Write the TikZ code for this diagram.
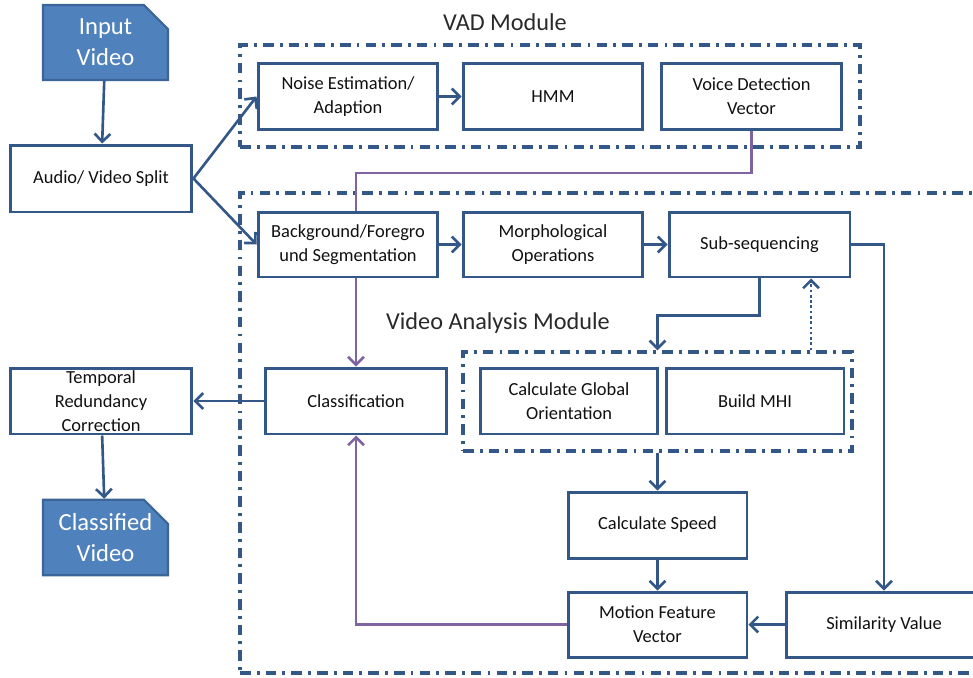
\documentclass[tikz,border=0pt]{standalone}
\usepackage{fontspec}
\setmainfont{Carlito}
\usetikzlibrary{arrows.meta,shapes.misc}
\definecolor{bb}{HTML}{335887}
\definecolor{df}{HTML}{4F81BD}
\definecolor{dfb}{HTML}{3A6596}
\definecolor{pp}{HTML}{8064A2}
\definecolor{tx}{HTML}{111111}
\begin{document}
\begin{tikzpicture}[x=0.02cm,y=-0.02cm,
  box/.style={draw=bb, line width=1.7pt, fill=white, align=center, inner sep=1pt,
    minimum width=3.6cm, minimum height=1.32cm, text=tx,
    font=\fontsize{10.5}{13.5}\selectfont},
  doc/.style={chamfered rectangle, chamfered rectangle corners=north east,
    chamfered rectangle sep=0.24cm, draw=dfb, line width=1.2pt, fill=df, text=white,
    align=center, minimum width=2.5cm, minimum height=1.5cm, inner sep=1pt,
    font=\fontsize{14}{17.5}\selectfont},
  mod/.style={rectangle, draw=bb, line width=2pt,
    dash pattern=on 6pt off 3.5pt on 1.6pt off 3.5pt},
  lbl/.style={text=tx!90, font=\fontsize{13.8}{16}\selectfont},
  arr/.style={draw=bb, line width=1.5pt, -{Straight Barb[length=4.5pt,width=9pt]}},
  parr/.style={draw=pp, line width=1.5pt, -{Straight Barb[length=4.5pt,width=9pt]}},
  pline/.style={draw=pp, line width=1.5pt}]
\useasboundingbox (0,0) rectangle (973,677);
\begin{scope}
\clip (0,0) rectangle (973,677);
% module frames
\node[mod, minimum width=12.4cm, minimum height=2.04cm] (vad) at (550,96) {};
\node[mod, minimum width=15cm, minimum height=9.6cm] (vam) at (615,433) {};
\node[mod, minimum width=7.78cm, minimum height=1.98cm] (inner) at (657.5,401.5) {};
\node[lbl] (vadlbl) at (505,22) {VAD Module};
\node[lbl] (vamlbl) at (498,323) {Video Analysis Module};
% documents
\node[doc] (inv) at (105.5,42.5) {Input\\Video};
\node[doc] (outv) at (105.5,537.5) {Classified\\Video};
% boxes
\node[box, minimum width=3.64cm, minimum height=1.34cm] (split) at (101,178.5) {Audio/ Video Split};
\node[box] (noise) at (348,96.5) {Noise Estimation/\\Adaption};
\node[box] (hmm) at (553,96.5) {HMM};
\node[box] (vdv) at (751.5,96.5) {Voice Detection\\Vector};
\node[box, minimum height=1.3cm] (bg) at (348,244.5) {Background/Foregro\\und Segmentation};
\node[box, minimum height=1.3cm] (morph) at (553,244.5) {Morphological\\Operations};
\node[box, minimum width=3.62cm, minimum height=1.3cm] (subseq) at (759.5,244.5) {Sub-sequencing};
\node[box, minimum width=3.64cm] (class) at (356,401) {Classification};
\node[box, minimum width=3.64cm] (temp) at (101,401) {Temporal\\Redundancy\\Correction};
\node[box, minimum width=3.56cm] (cgo) at (569,401) {Calculate Global\\Orientation};
\node[box, minimum width=3.56cm] (mhi) at (755,401) {Build MHI};
\node[box, minimum width=3.58cm] (speed) at (657.5,525) {Calculate Speed};
\node[box, minimum width=3.58cm, minimum height=1.3cm] (mfv) at (657.5,624.5) {Motion Feature\\Vector};
\node[box, minimum width=3.92cm, minimum height=1.3cm] (sim) at (884,624.5) {Similarity Value};
\coordinate (dtx) at (811,0);
% connectors
\draw[arr] (inv) -- (split);
\draw[arr] (split.east) -- (noise.west);
\draw[arr] (split.east) -- (bg.west);
\draw[arr] (noise) -- (hmm);
\draw[arr] (bg) -- (morph);
\draw[arr] (morph) -- (subseq);
\draw[arr] (subseq.south) -- ++(0,37) -| (inner.north -| speed.north);
\draw[arr, dash pattern=on 1.5pt off 1.5pt] (inner.north -| dtx) -- (subseq.south -| dtx);
\draw[arr] (subseq.east) -| (sim.north);
\draw[arr] (inner.south -| speed.north) -- (speed.north);
\draw[arr] (speed) -- (mfv);
\draw[arr] (sim) -- (mfv);
\draw[parr] (mfv.west) -| (class.south);
\draw[pline] (vdv.south) -- ++(0,42) -| (bg.north -| class.north);
\draw[parr] (bg.south -| class.north) -- (class.north);
\draw[arr] (class) -- (temp);
\draw[arr] (temp) -- (outv);
\end{scope}
\end{tikzpicture}
\end{document}
